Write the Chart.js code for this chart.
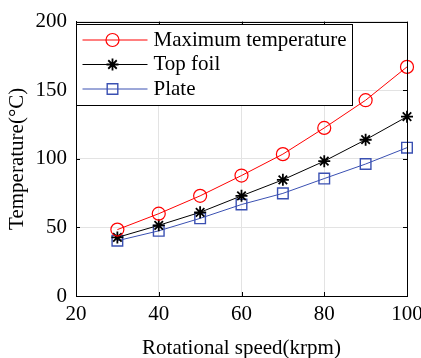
<!DOCTYPE html>
<html>
<head>
<meta charset="utf-8">
<script src="https://cdn.jsdelivr.net/npm/chart.js@4.4.1/dist/chart.umd.min.js"></script>
<style>
  html, body { margin: 0; padding: 0; background: #fff; }
  canvas { display: block; }
</style>
</head>
<body>
<canvas id="tempChart" width="421" height="358"></canvas>
<script>
const speeds = [30, 40, 50, 60, 70, 80, 90, 100];
const maxTemp = [48.4, 60, 73, 87.8, 103.4, 122.5, 142.7, 167];
const topFoil = [42.7, 51.5, 61, 73, 84.7, 98.3, 113.9, 130.7];
const plate = [40.3, 47.5, 56.6, 66.7, 74.8, 85.6, 96.2, 108.1];
const seriesNames = ['Maximum temperature', 'Top foil', 'Plate'];

const serif = "'Liberation Serif', 'Times New Roman', serif";
const red = '#ff0000';
const black = '#000000';
const blue = '#3a50b2';

function points(values) {
  return speeds.map((s, i) => ({ x: s, y: values[i] }));
}

function series(label, values, color, style, radius, markerWidth) {
  return {
    label: label,
    data: points(values),
    borderColor: color,
    backgroundColor: 'transparent',
    borderWidth: 1,
    pointStyle: style,
    pointRadius: radius,
    pointBorderColor: color,
    pointBackgroundColor: 'transparent',
    pointBorderWidth: markerWidth,
    tension: 0,
    clip: false
  };
}

// box frame + inward ticks, MATLAB style
const framePlugin = {
  id: 'frame',
  afterDatasetsDraw(chart) {
    const { ctx, chartArea: a, scales } = chart;
    ctx.save();
    ctx.strokeStyle = '#000';
    ctx.lineWidth = 1;
    ctx.beginPath();
    scales.x.ticks.forEach(t => {
      const px = Math.round(scales.x.getPixelForValue(t.value)) + 0.5;
      ctx.moveTo(px, a.bottom); ctx.lineTo(px, a.bottom - 4);
      ctx.moveTo(px, a.top); ctx.lineTo(px, a.top + 4);
    });
    scales.y.ticks.forEach(t => {
      const py = Math.round(scales.y.getPixelForValue(t.value)) + 0.5;
      ctx.moveTo(a.left, py); ctx.lineTo(a.left + 4, py);
      ctx.moveTo(a.right, py); ctx.lineTo(a.right - 4, py);
    });
    ctx.stroke();
    ctx.strokeRect(Math.round(a.left) + 0.5, Math.round(a.top) + 0.5,
      Math.round(a.right - a.left), Math.round(a.bottom - a.top));
    ctx.restore();
  }
};

// legend box in the upper-left corner of the plot
const boxLegend = {
  id: 'boxLegend',
  afterDraw(chart) {
    const { ctx, chartArea: a } = chart;
    const left = Math.round(a.left) + 0.5;
    const top = 24.5;
    const w = 276, h = 81;
    ctx.save();
    ctx.fillStyle = '#fff';
    ctx.fillRect(left, top, w, h);
    ctx.strokeStyle = '#000';
    ctx.lineWidth = 1;
    ctx.strokeRect(left, top, w, h);
    ctx.font = '21px ' + serif;
    ctx.textBaseline = 'middle';
    chart.data.datasets.forEach((ds, i) => {
      const y = 40 + i * 24.5;
      ctx.strokeStyle = ds.borderColor;
      ctx.lineWidth = 1;
      ctx.beginPath();
      ctx.moveTo(left + 6, y);
      ctx.lineTo(left + 71, y);
      ctx.stroke();
      ctx.lineWidth = ds.pointBorderWidth;
      ctx.fillStyle = 'rgba(0,0,0,0)';
      Chart.helpers.drawPoint(ctx, {
        pointStyle: ds.pointStyle, radius: ds.pointRadius, rotation: 0, borderWidth: ds.pointBorderWidth
      }, left + 36, y);
      ctx.fillStyle = '#000';
      ctx.fillText(ds.label, left + 77, y);
    });
    ctx.restore();
  }
};

new Chart(document.getElementById('tempChart'), {
  type: 'line',
  data: {
    datasets: [
      series(seriesNames[0], maxTemp, red, 'circle', 6.5, 1.2),
      series(seriesNames[1], topFoil, black, 'star', 6, 1.8),
      series(seriesNames[2], plate, blue, 'rect', 7.5, 1.4)
    ]
  },
  options: {
    responsive: false,
    devicePixelRatio: 1,
    animation: false,
    layout: { padding: { top: 18, right: 14, left: 0, bottom: 0 } },
    plugins: {
      legend: { display: false },
      tooltip: { enabled: false }
    },
    scales: {
      x: {
        type: 'linear',
        min: 20,
        max: 100,
        afterFit(scale) {
          scale.height = 62;
          scale.paddingLeft = 0;
          scale.paddingRight = 0;
        },
        ticks: { stepSize: 20, color: '#000', font: { family: serif, size: 21 }, padding: 6, maxRotation: 0 },
        grid: { color: '#e3e3e3', drawTicks: false },
        border: { display: true, color: '#000' },
        title: {
          display: true,
          text: 'Rotational speed(krpm)',
          color: '#000',
          font: { family: serif, size: 21 },
          padding: { top: 0, bottom: -3 }
        }
      },
      y: {
        min: 0,
        max: 200,
        afterFit(scale) {
          scale.width = 76;
        },
        ticks: { stepSize: 50, color: '#000', font: { family: serif, size: 21 }, padding: 9 },
        grid: { color: '#e3e3e3', drawTicks: false },
        border: { display: true, color: '#000' },
        title: {
          display: true,
          text: 'Temperature(°C)',
          color: '#000',
          font: { family: serif, size: 21 },
          padding: { top: 5, bottom: 0 }
        }
      }
    }
  },
  plugins: [framePlugin, boxLegend]
});
</script>
</body>
</html>
